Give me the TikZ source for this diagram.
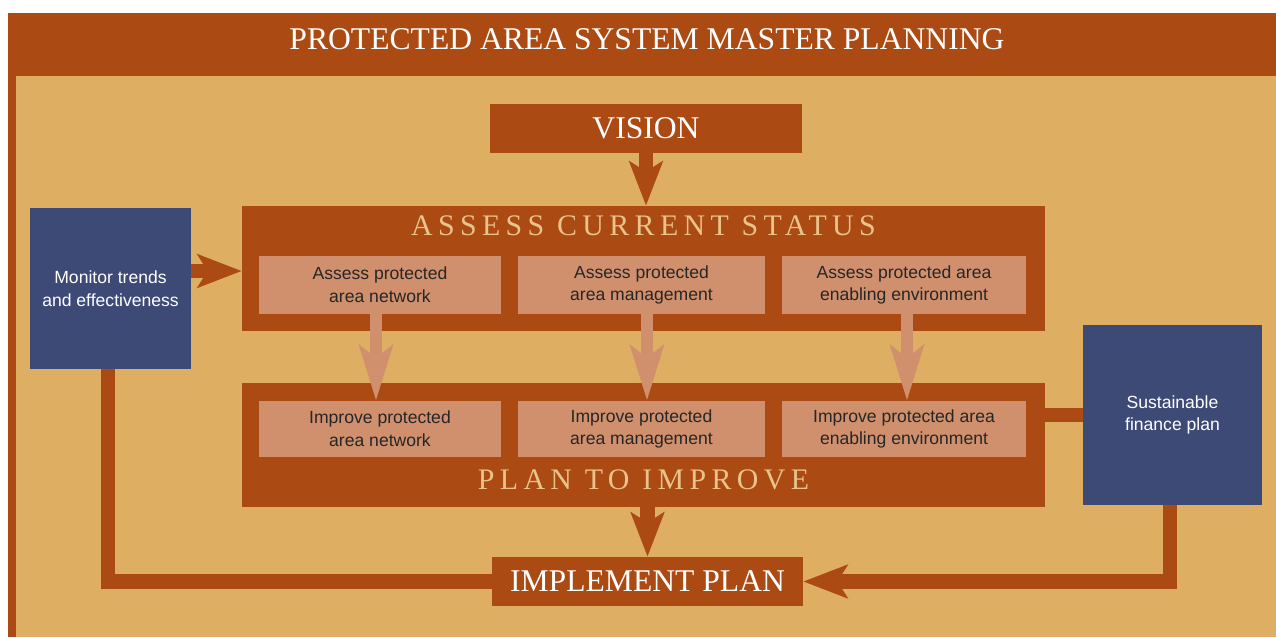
\documentclass[tikz,border=0pt]{standalone}
\usepackage{fontspec}
\setmainfont{Liberation Serif}
\newfontfamily\boxfont{Liberation Sans}
\usepackage{tikz}
\usetikzlibrary{arrows.meta}
\usepackage{xcolor}

\definecolor{rust}{HTML}{AC4A13}
\definecolor{tan}{HTML}{DEAE62}
\definecolor{navy}{HTML}{3E4A76}
\definecolor{pinkbox}{HTML}{D0906E}
\definecolor{titletan}{HTML}{E8C38A}

\begin{document}
\begin{tikzpicture}[x=0.02cm,y=-0.02cm,
		bigbox/.style={fill=rust,inner sep=0pt},
		subbox/.style={fill=pinkbox,inner sep=0pt,minimum height=1.16cm,align=center,
			text=black!85,font=\boxfont\fontsize{10}{13}\selectfont},
		bluebox/.style={fill=navy,inner sep=0pt,align=center,text=white,
			font=\boxfont\fontsize{10}{13}\selectfont},
		bigtitle/.style={text=white,inner sep=0pt,font=\fontsize{18}{22}\selectfont},
		sectitle/.style={text=titletan,inner sep=0pt,
			font=\fontsize{17}{20}\selectfont\addfontfeatures{LetterSpace=18}},
		link/.style={rust,line width=0.29cm},
		flow/.style={link,-{Stealth[length=0.88cm,width=0.66cm,inset=0.2cm]}},
		lightflow/.style={pinkbox,line width=0.25cm,-{Stealth[length=1.1cm,width=0.66cm,inset=0.25cm]}}
		]
		
		\fill[white] (0,0) rectangle (1276,637);
		\useasboundingbox (0,0) rectangle (1276,637);
		
		\fill[rust] (8,13) rectangle (1276,637);
		\fill[tan] (16,76) rectangle (1276,637);
		\node[bigtitle] (header) at (647,39) {PROTECTED AREA SYSTEM MASTER PLANNING};
		
		\node[bigbox,minimum width=6.24cm,minimum height=0.98cm,bigtitle] (vision) at (646,128.5) {VISION};
		
		\node[bigbox,minimum width=16.06cm,minimum height=2.5cm] (assess) at (643.5,268.5) {};
		\node[sectitle] (assesstitle) at (643.5,226) {ASSESS CURRENT STATUS};
		\node[subbox,minimum width=4.84cm] (a1) at (380,285) {Assess protected\\area network};
		\node[subbox,minimum width=4.94cm] (a2) at (641.5,285) {Assess protected\\area management};
		\node[subbox,minimum width=4.88cm] (a3) at (904,285) {Assess protected area\\enabling environment};
		
		\node[bigbox,minimum width=16.06cm,minimum height=2.48cm] (plan) at (643.5,445) {};
		\node[sectitle] (plantitle) at (643.5,480) {PLAN TO IMPROVE};
		\node[subbox,minimum width=4.84cm,minimum height=1.12cm] (p1) at (380,429) {Improve protected\\area network};
		\node[subbox,minimum width=4.94cm,minimum height=1.12cm] (p2) at (641.5,429) {Improve protected\\area management};
		\node[subbox,minimum width=4.88cm,minimum height=1.12cm] (p3) at (904,429) {Improve protected area\\enabling environment};
		
		\node[bigbox,minimum width=6.22cm,minimum height=0.98cm,bigtitle] (implement) at (647.5,581.5) {IMPLEMENT PLAN};
		
		\node[bluebox,minimum width=3.22cm,minimum height=3.22cm] (monitor) at (110.5,288.5) {Monitor trends\\and effectiveness};
		\node[bluebox,minimum width=3.58cm,minimum height=3.6cm] (finance) at (1172.5,415) {Sustainable\\finance plan};
		
		\draw[flow] (vision.south) -- (vision.south |- assess.north);
		\draw[flow] (monitor.east |- 0,271) -- (assess.west |- 0,271);
		\foreach \i/\x in {1/376,2/647,3/907}
		\draw[lightflow] (a\i.south -| \x,0) -- (p\i.north -| \x,0);
		\draw[flow] (plan.south -| implement.north) -- (implement.north);
		
		\draw[link] (monitor.south -| 108,0) |- (implement.west);
		\draw[link] (plan.east |- finance.west) -- (finance.west);
		\draw[flow] (finance.south -| 1170,0) |- (implement.east);
		
	\end{tikzpicture}
\end{document}
